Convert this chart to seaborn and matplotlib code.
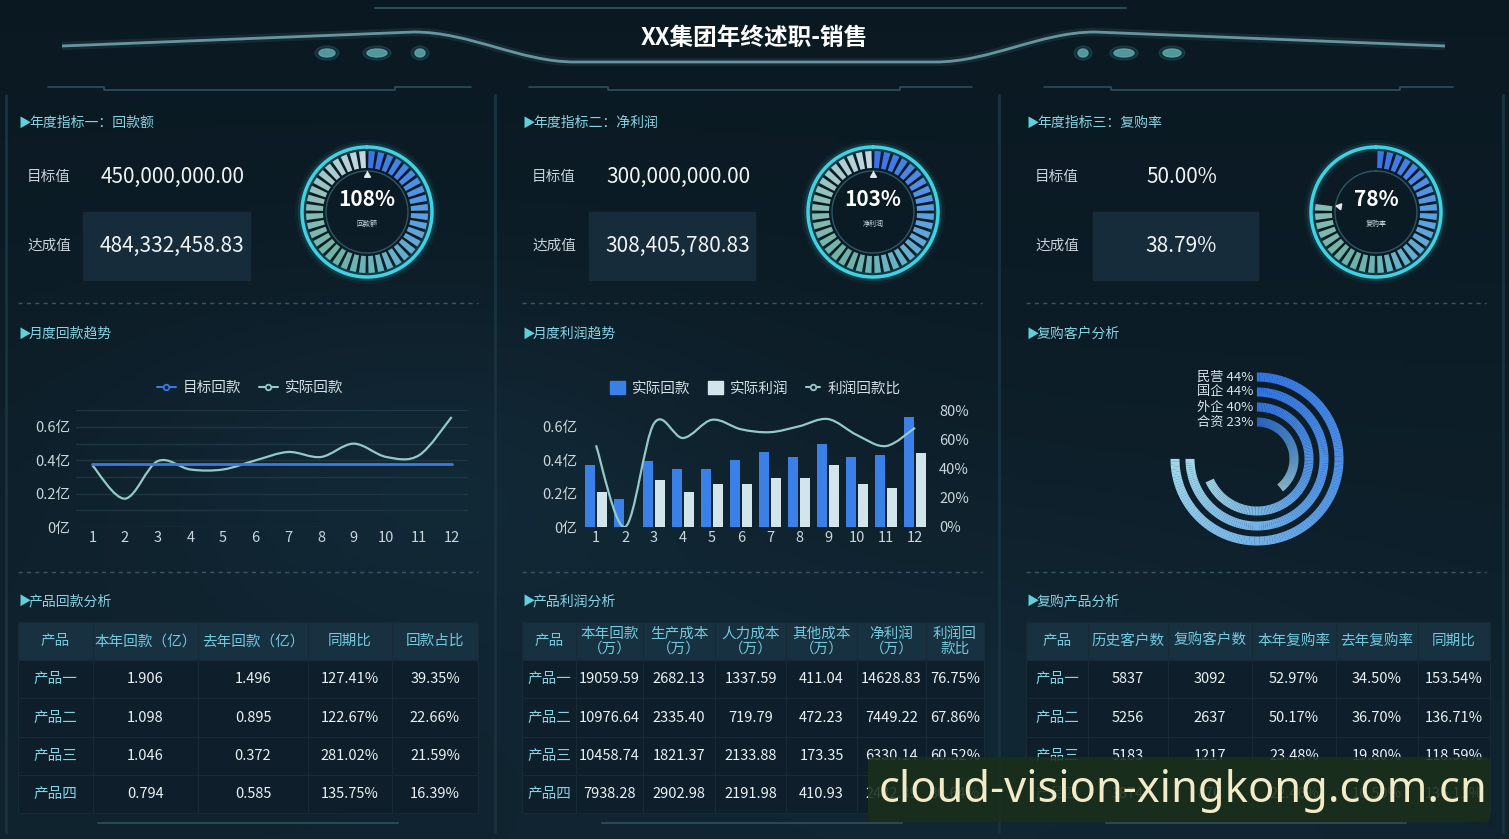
import numpy as np
import pandas as pd
import matplotlib
matplotlib.use("Agg")
import matplotlib.pyplot as plt
import seaborn as sns
from matplotlib.lines import Line2D
from matplotlib.patches import Patch, Rectangle, PathPatch, Ellipse, FancyBboxPatch
from matplotlib.path import Path
from matplotlib.colors import LinearSegmentedColormap

sns.set_theme(style="dark", rc={"axes.facecolor": "none", "figure.facecolor": "#0e1f2b"})
plt.rcParams['font.family'] = ['Noto Sans CJK SC', 'DejaVu Sans']
plt.rcParams['axes.unicode_minus'] = False

W, H = 1509, 839

## data
kpi_target = [450000000.00, 300000000.00, 50.00]
kpi_actual = [484332458.83, 308405780.83, 38.79]
gauge_names = ["回款额", "净利润", "复购率"]

months = [1, 2, 3, 4, 5, 6, 7, 8, 9, 10, 11, 12]
target_receipt = [0.375, 0.375, 0.375, 0.375, 0.375, 0.375, 0.375, 0.375, 0.375, 0.375, 0.375, 0.375]
actual_receipt = [0.37, 0.17, 0.395, 0.345, 0.345, 0.40, 0.45, 0.42, 0.50, 0.42, 0.43, 0.66]
actual_profit = [0.21, 0.0, 0.28, 0.21, 0.255, 0.26, 0.295, 0.295, 0.37, 0.26, 0.235, 0.445]
profit_ratio = [56, 0, 71, 61, 73.5, 67, 65, 69, 74, 63, 55.5, 68]

cust_types = ["民营", "国企", "外企", "合资"]
cust_rates = [44, 44, 40, 23]

products = ["产品一", "产品二", "产品三", "产品四"]
rec_this = [1.906, 1.098, 1.046, 0.794]
rec_last = [1.496, 0.895, 0.372, 0.585]
rec_yoy = [127.41, 122.67, 281.02, 135.75]
rec_share = [39.35, 22.66, 21.59, 16.39]

p_receipt = [19059.59, 10976.64, 10458.74, 7938.28]
p_prod_cost = [2682.13, 2335.40, 1821.37, 2902.98]
p_labor_cost = [1337.59, 719.79, 2133.88, 2191.98]
p_other_cost = [411.04, 472.23, 173.35, 410.93]
p_net = [14628.83, 7449.22, 6330.14, 2432.39]
p_ratio = [76.75, 67.86, 60.52, 30.64]

c_hist = [5837, 5256, 5183, 3874]
c_repeat = [3092, 2637, 1217, 870]
c_rate_now = [52.97, 50.17, 23.48, 22.46]
c_rate_last = [34.50, 36.70, 19.80, 16.50]
c_yoy = [153.54, 136.71, 118.59, 136.11]

## colours
BG = "#0f2230"
CYAN_TXT = "#86d3e2"
TICK = "#c9d6dc"
BLUE = "#3a80e6"
PALE = "#d2e5ea"
LINE_PALE = "#93c9c6"

fig = plt.figure(figsize=(W / 100, H / 100), dpi=100)


def px_axes(x0, y0, x1, y1, **kw):
    return fig.add_axes([x0 / W, 1 - y1 / H, (x1 - x0) / W, (y1 - y0) / H], **kw)


def smooth_path(xs, ys):
    # catmull-rom style bezier through the data points (echarts "smooth" look)
    pts = np.column_stack([xs, ys]).astype(float)
    ext = np.vstack([pts[0], pts, pts[-1]])
    verts, codes = [pts[0]], [Path.MOVETO]
    for i in range(len(pts) - 1):
        p0, p1, p2, p3 = ext[i], ext[i + 1], ext[i + 2], ext[i + 3]
        verts += [p1 + (p2 - p0) / 6, p2 - (p3 - p1) / 6, p2]
        codes += [Path.CURVE4] * 3
    return Path(verts, codes)


## background + frame decoration
bg = px_axes(0, 0, W, H)
bg.set_xlim(0, W)
bg.set_ylim(H, 0)
bg.axis("off")
bg_cmap = LinearSegmentedColormap.from_list("bgc", ["#07131a", "#0e202b", "#163242"])
yy, xx = np.mgrid[0:1:240j, 0:1:420j]
field = (0.22 + 0.38 * yy
         + 0.28 * np.exp(-((xx - 0.28) ** 2 / 0.05 + (yy - 0.55) ** 2 / 0.05))
         + 0.15 * np.exp(-((xx - 0.62) ** 2 / 0.08 + (yy - 0.8) ** 2 / 0.05)))
bg.imshow(field, cmap=bg_cmap, vmin=0, vmax=1, extent=[0, W, H, 0], aspect="auto", zorder=0)

# title bar
bg.plot([375, 1126], [8, 8], color="#2b4c55", lw=1.5)
wing = Path([(62, 46), (414, 32), (470, 32), (520, 62), (575, 62), (935, 62),
             (990, 62), (1040, 32), (1095, 32), (1445, 46)],
            [Path.MOVETO, Path.LINETO, Path.CURVE4, Path.CURVE4, Path.CURVE4, Path.LINETO,
             Path.CURVE4, Path.CURVE4, Path.CURVE4, Path.LINETO])
for lw, a in [(6, 0.12), (2, 0.9)]:
    bg.add_patch(PathPatch(wing, facecolor="none", edgecolor="#6fa3aa", lw=lw, alpha=a))
for x, w in [(327, 16), (377, 20), (420, 10), (1083, 10), (1124, 20), (1172, 18)]:
    bg.add_patch(Ellipse((x, 53), w + 8, 14, color="#3f9aa3", alpha=0.18))
    bg.add_patch(Ellipse((x, 53), w, 8, color="#5fa9ae", alpha=0.85))
bg.text(754, 38, "XX集团年终述职-销售", ha="center", va="center", fontsize=17,
        fontweight="bold", color="white")

# notch lines under header
for a, b, c, d in [(48, 104, 395, 471), (529, 608, 900, 972), (1044, 1111, 1400, 1453)]:
    bg.plot([a, b, b, c, c, d], [87, 87, 90, 90, 87, 87], color="#2e4f5a", lw=1.2)

# panel separators
for x in [6, 495, 999, 1503]:
    bg.plot([x, x], [95, 832], color="#1a3240", lw=2)
col_x = [18, 522, 1026]
for x0 in col_x:
    for y in [303, 572]:
        bg.plot([x0, x0 + 460], [y, y], color="#3b5565", lw=1, dashes=(3, 3))
    bg.plot([x0 + 80, x0 + 380], [823, 823], color="#2b4754", lw=1.5)

# section headers
sections = [["年度指标一：回款额", "月度回款趋势", "产品回款分析"],
            ["年度指标二：净利润", "月度利润趋势", "产品利润分析"],
            ["年度指标三：复购率", "复购客户分析", "复购产品分析"]]
for x0, names in zip(col_x, sections):
    for y, name in zip([123, 334, 601], names):
        bg.text(x0, y, "▶", ha="left", va="center", fontsize=9, color="#5fd0dc")
        bg.text(x0 + 11, y, name, ha="left", va="center", fontsize=10, color=CYAN_TXT)

## KPI blocks
label_x = [27, 532, 1035]
box_x = [(83, 250), (589, 755), (1093, 1258)]
for i in range(3):
    bx0, bx1 = box_x[i]
    bg.add_patch(Rectangle((bx0, 212), bx1 - bx0, 68, color="#172c3a", zorder=1))
    bg.text(label_x[i], 177, "目标值", ha="left", va="center", fontsize=10.5, color="#c6d2d8")
    bg.text(label_x[i], 246, "达成值", ha="left", va="center", fontsize=10.5, color="#c6d2d8")
    if i < 2:
        t_txt, a_txt = f"{kpi_target[i]:,.2f}", f"{kpi_actual[i]:,.2f}"
    else:
        t_txt, a_txt = f"{kpi_target[i]:.2f}%", f"{kpi_actual[i]:.2f}%"
    cx = (bx0 + bx1) / 2 + 6
    bg.text(cx, 177, t_txt, ha="center", va="center", fontsize=15, color="#eef4f6", zorder=2)
    bg.text(cx, 246, a_txt, ha="center", va="center", fontsize=15, color="#eef4f6", zorder=2)

## gauges
gauge_cmap = LinearSegmentedColormap.from_list(
    "gauge", [(0, "#3d72e8"), (0.25, "#5c9ee2"), (0.45, "#6ab4c4"), (0.6, "#6fb2a2"),
              (0.78, "#8bbcb4"), (1, "#c4d8e2")])
N_SEG = 40
gauge_cx = [367, 873, 1376]
for i in range(3):
    ratio = kpi_actual[i] / kpi_target[i]
    cx, cy = gauge_cx[i], 212
    ga = px_axes(cx - 75, cy - 75, cx + 75, cy + 75, projection="polar")
    ga.set_theta_zero_location("N")
    ga.set_theta_direction(-1)
    ga.axis("off")
    seg = np.arange(N_SEG)
    lit = seg < round(min(ratio, 1) * N_SEG)
    theta = (seg + 0.5) * 2 * np.pi / N_SEG
    ga.bar(theta[lit], 17, width=2 * np.pi / N_SEG * 0.68, bottom=44,
           color=gauge_cmap(seg[lit] / (N_SEG - 1)), linewidth=0)
    circ = np.linspace(0, 2 * np.pi, 361)
    for lw, a in [(10, 0.05), (6, 0.12), (2.5, 1)]:
        ga.plot(circ, np.full_like(circ, 65), color="#3fd2e2", lw=lw, alpha=a)
    ga.plot(circ, np.full_like(circ, 41), color="#2c5864", lw=1)
    ang = min(ratio, 1) * 360
    ga.plot([np.deg2rad(ang)], [37.5], marker=(3, 0, -ang), ms=5, color="#dfe8ea", lw=0)
    ga.set_ylim(0, 75)
    bg.text(cx, cy - 12, f"{ratio * 100:.0f}%", ha="center", va="center", fontsize=15,
            fontweight="bold", color="white", zorder=3)
    bg.text(cx, cy + 12, gauge_names[i], ha="center", va="center", fontsize=5,
            color="#cfdde3", zorder=3)

## monthly receipt trend (line chart)
axl = px_axes(76, 410.3, 468, 527)
sns.lineplot(x=months, y=target_receipt, color="#3b78e2", lw=2, ax=axl)
axl.add_patch(PathPatch(smooth_path(months, actual_receipt), facecolor="none",
                        edgecolor=LINE_PALE, lw=1.6))
axl.set_xlim(0.5, 12.5)
axl.set_ylim(0, 0.7)
axl.set_xticks(months)
axl.set_yticks([0, 0.1, 0.2, 0.3, 0.4, 0.5, 0.6, 0.7])
axl.set_yticklabels(["0亿", "", "0.2亿", "", "0.4亿", "", "0.6亿", ""])
axl.grid(axis="y", color="#1f3644", lw=1)
axl.grid(axis="x", visible=False)
axl.tick_params(colors=TICK, labelsize=10.5, length=0)
axl.tick_params(axis="x", pad=3)
axl.tick_params(axis="y", pad=4)
axl.set_xlabel("")
axl.set_ylabel("")
for s in axl.spines.values():
    s.set_visible(False)
leg_handles = [Line2D([0], [0], color="#3b78e2", lw=1.5, marker="o", ms=4, mfc=BG, mew=1.3),
               Line2D([0], [0], color=LINE_PALE, lw=1.5, marker="o", ms=4, mfc=BG, mew=1.3)]
axl.legend(leg_handles, ["目标回款", "实际回款"], loc="center", bbox_to_anchor=(0.444, 1.188),
           ncol=2, frameon=False, fontsize=10.5, labelcolor="#d4dfe4", handlelength=1.3,
           handletextpad=0.5, columnspacing=1.2)

## monthly profit trend (bars + ratio line)
bar_df = pd.DataFrame({
    "月份": months + months,
    "金额": actual_receipt + actual_profit,
    "系列": ["实际回款"] * 12 + ["实际利润"] * 12,
})
axb = px_axes(581.5, 410.3, 929.5, 527)
sns.barplot(data=bar_df, x="月份", y="金额", hue="系列",
            palette={"实际回款": BLUE, "实际利润": PALE}, width=0.8, gap=0.12,
            saturation=1, legend=False, linewidth=0, ax=axb)
axb.set_xlim(-0.5, 11.5)
axb.set_ylim(0, 0.7)
axb.set_yticks([0, 0.2, 0.4, 0.6])
axb.set_yticklabels(["0亿", "0.2亿", "0.4亿", "0.6亿"])
axb.tick_params(colors=TICK, labelsize=10.5, length=0)
axb.tick_params(axis="x", pad=3)
axb.tick_params(axis="y", pad=3)
axb.grid(False)
axb.set_xlabel("")
axb.set_ylabel("")
for s in axb.spines.values():
    s.set_visible(False)
axr = axb.twinx()
axr.add_patch(PathPatch(smooth_path(range(12), profit_ratio), facecolor="none",
                        edgecolor=LINE_PALE, lw=1.6))
axr.set_ylim(0, 80)
axr.set_yticks([0, 20, 40, 60, 80])
axr.set_yticklabels(["0%", "20%", "40%", "60%", "80%"])
axr.tick_params(colors=TICK, labelsize=10.5, length=0, pad=7)
axr.grid(False)
for s in axr.spines.values():
    s.set_visible(False)
bar_handles = [Patch(color=BLUE), Patch(color=PALE),
               Line2D([0], [0], color=LINE_PALE, lw=1.5, marker="o", ms=4, mfc=BG, mew=1.3)]
axb.legend(bar_handles, ["实际回款", "实际利润", "利润回款比"], loc="center",
           bbox_to_anchor=(0.5, 1.188), ncol=3, frameon=False, fontsize=10.5,
           labelcolor="#d4dfe4", handlelength=1.0, handleheight=1.0, handletextpad=0.5,
           columnspacing=1.2)

## repeat customers radial bars
ring_cmap = LinearSegmentedColormap.from_list("ring", ["#3274e2", "#5b9de6", "#a2d8ea"])
RING_MAX = 44 / 0.75
rc_x, rc_y = 1257, 459
axp = px_axes(rc_x - 95, rc_y - 95, rc_x + 95, rc_y + 95, projection="polar")
axp.set_theta_zero_location("N")
axp.set_theta_direction(-1)
axp.axis("off")
for k, (name, v) in enumerate(zip(cust_types, cust_rates)):
    r = 82 - 15 * k
    end = v / RING_MAX * 2 * np.pi
    n = 150
    edges = np.linspace(0, end, n + 1)
    axp.bar((edges[:-1] + edges[1:]) / 2, 9, width=end / n * 1.08, bottom=r - 4.5,
            color=ring_cmap(np.linspace(0, 1, n)), linewidth=0)
    bg.text(rc_x - 4, rc_y - r, f"{name} {v}%", ha="right", va="center", fontsize=9.5,
            color="#d8e4ea", zorder=3)
axp.set_ylim(0, 95)

## tables


def draw_table(box, header, rows, widths, fs=10.5):
    x0, y0, x1, y1 = box
    ax = px_axes(x0, y0, x1, y1)
    ax.axis("off")
    tb = ax.table(cellText=rows, colLabels=header, colWidths=widths, bbox=[0, 0, 1, 1],
                  cellLoc="center")
    tb.auto_set_font_size(False)
    tb.set_fontsize(fs)
    for (r, c), cell in tb.get_celld().items():
        cell.set_edgecolor("#172a36")
        cell.set_linewidth(0.8)
        cell.get_text().set_linespacing(1.1)
        if r == 0:
            cell.set_facecolor("#173140")
            cell.get_text().set_color("#74c9dd")
        else:
            cell.set_facecolor("#0e1f2b")
            cell.get_text().set_color(CYAN_TXT if c == 0 else "#e9f1f3")
    return ax


rows1 = [[p, f"{a:.3f}", f"{b:.3f}", f"{c:.2f}%", f"{d:.2f}%"]
         for p, a, b, c, d in zip(products, rec_this, rec_last, rec_yoy, rec_share)]
draw_table((18, 622, 478, 813), ["产品", "本年回款（亿）", "去年回款（亿）", "同期比", "回款占比"],
           rows1, [75, 105, 110, 84, 86])

rows2 = [[p, f"{a:.2f}", f"{b:.2f}", f"{c:.2f}", f"{d:.2f}", f"{e:.2f}", f"{f:.2f}%"]
         for p, a, b, c, d, e, f in zip(products, p_receipt, p_prod_cost, p_labor_cost,
                                        p_other_cost, p_net, p_ratio)]
draw_table((522, 622, 984, 813),
           ["产品", "本年回款\n（万）", "生产成本\n（万）", "人力成本\n（万）", "其他成本\n（万）",
            "净利润\n（万）", "利润回\n款比"],
           rows2, [54, 67, 72, 71, 71, 69, 58])

rows3 = [[p, f"{a}", f"{b}", f"{c:.2f}%", f"{d:.2f}%", f"{e:.2f}%"]
         for p, a, b, c, d, e in zip(products, c_hist, c_repeat, c_rate_now, c_rate_last, c_yoy)]
draw_table((1026, 622, 1490, 813),
           ["产品", "历史客户数", "复购客户数", "本年复购率", "去年复购率", "同期比"],
           rows3, [62, 80, 84, 84, 82, 72])

## watermark overlay
ov = px_axes(0, 0, W, H)
ov.set_xlim(0, W)
ov.set_ylim(H, 0)
ov.axis("off")
ov.add_patch(FancyBboxPatch((868, 757), 622, 65, boxstyle="round,pad=0,rounding_size=6",
                            facecolor="#1b2f1b", edgecolor="none", alpha=0.88))
ov.text(879, 791, "cloud-vision-xingkong.com.cn", ha="left", va="center", fontsize=31.3,
        family="Noto Sans", color="#f3ebc8")

fig.savefig("out.png", dpi=100, facecolor=fig.get_facecolor())
